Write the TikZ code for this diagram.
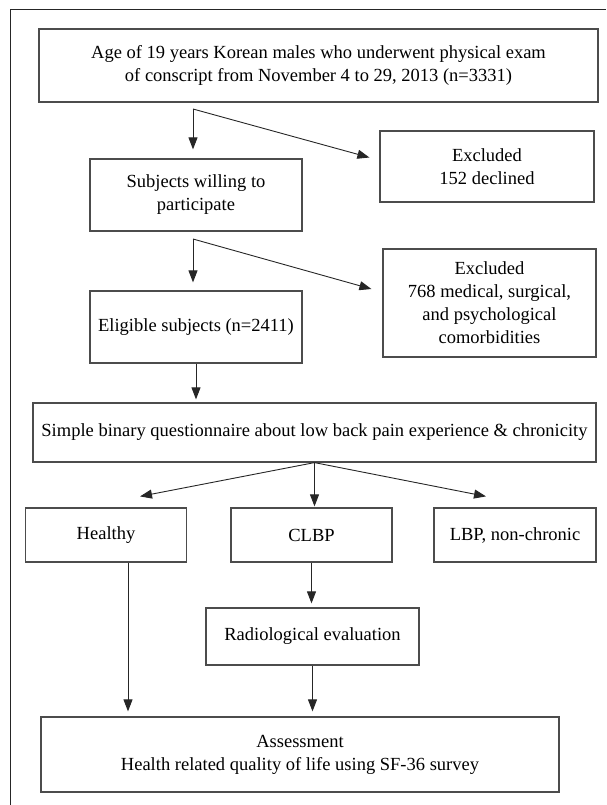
\documentclass[tikz,border=0pt]{standalone}
\usepackage{fontspec}
\setmainfont{Liberation Serif}
\usetikzlibrary{arrows.meta}

\begin{document}
\begin{tikzpicture}
		[x=1pt,y=-1pt,
		every node/.style={font=\fontsize{18.5}{23}\selectfont},
		box/.style={draw=black!70,line width=1.2pt,align=center,inner sep=0pt},
		arr/.style={draw=black!85,line width=0.9pt,-{Triangle[length=12pt,width=9pt]}}]

		\useasboundingbox (0,0) rectangle (606,805);
		\draw[line width=1.2pt,black!85] (10.5,805) -- (10.5,9.5) -- (606,9.5);

		\node[box,minimum width=559pt,minimum height=73pt] (Age) at (318.5,65.5)
			{Age of 19 years Korean males who underwent physical exam\\of conscript from November 4 to 29, 2013 (n=3331)};
		\node[box,minimum width=212pt,minimum height=72pt] (Subj) at (196,195) {Subjects willing to\\participate};
		\node[box,minimum width=214pt,minimum height=71pt] (Excl1) at (487,166.5) {Excluded\\152 declined};
		\node[box,minimum width=212pt,minimum height=72pt] (Elig) at (196,327) {Eligible subjects (n=2411)};
		\node[box,minimum width=213pt,minimum height=108pt] (Excl2) at (489.5,303)
			{Excluded\\768 medical, surgical,\\and psychological\\comorbidities};
		\node[box,minimum width=563pt,minimum height=59pt] (Quest) at (314.5,432.5)
			{Simple binary questionnaire about low back pain experience \& chronicity};
		\node[box,minimum width=161pt,minimum height=54pt] (Healthy) at (106,535) {Healthy};
		\node[box,minimum width=161pt,minimum height=54pt] (CLBP) at (311.5,535) {CLBP};
		\node[box,minimum width=162pt,minimum height=54pt] (LBP) at (515,535) {LBP, non-chronic};
		\node[box,minimum width=213pt,minimum height=57pt] (Radio) at (312.5,636.5) {Radiological evaluation};
		\node[box,minimum width=518pt,minimum height=75pt] (Assess) at (300,754.5)
			{Assessment\\Health related quality of life using SF-36 survey};

		% branch points
		\coordinate (b1) at (193,109);
		\coordinate (b2) at (193,239);

		\draw[arr,shorten >=9pt] (b1) -- (b1 |- Subj.north);
		\draw[arr] (b1) -- ([shift={(-10,-9)}]Excl1.west);
		\draw[arr,shorten >=8pt] (b2) -- (b2 |- Elig.north);
		\draw[arr] (b2) -- ([shift={(-11,-14)}]Excl2.west);
		\draw[arr,shorten >=3pt] (Elig.south) -- (Elig.south |- Quest.north);

		\draw[arr] (Quest.south) -- ([shift={(34,-11)}]Healthy.north);
		\draw[arr,shorten >=1pt] (Quest.south) -- (Quest.south |- CLBP.north);
		\draw[arr] (Quest.south) -- ([shift={(-29,-11)}]LBP.north);

		\draw[arr,shorten >=5pt] ([xshift=22pt]Healthy.south) -- ([xshift=22pt]Healthy.south |- Assess.north);
		\draw[arr,shorten >=4pt] (CLBP.south) -- (CLBP.south |- Radio.north);
		\draw[arr,shorten >=5pt] (Radio.south) -- (Radio.south |- Assess.north);
\end{tikzpicture}
\end{document}
